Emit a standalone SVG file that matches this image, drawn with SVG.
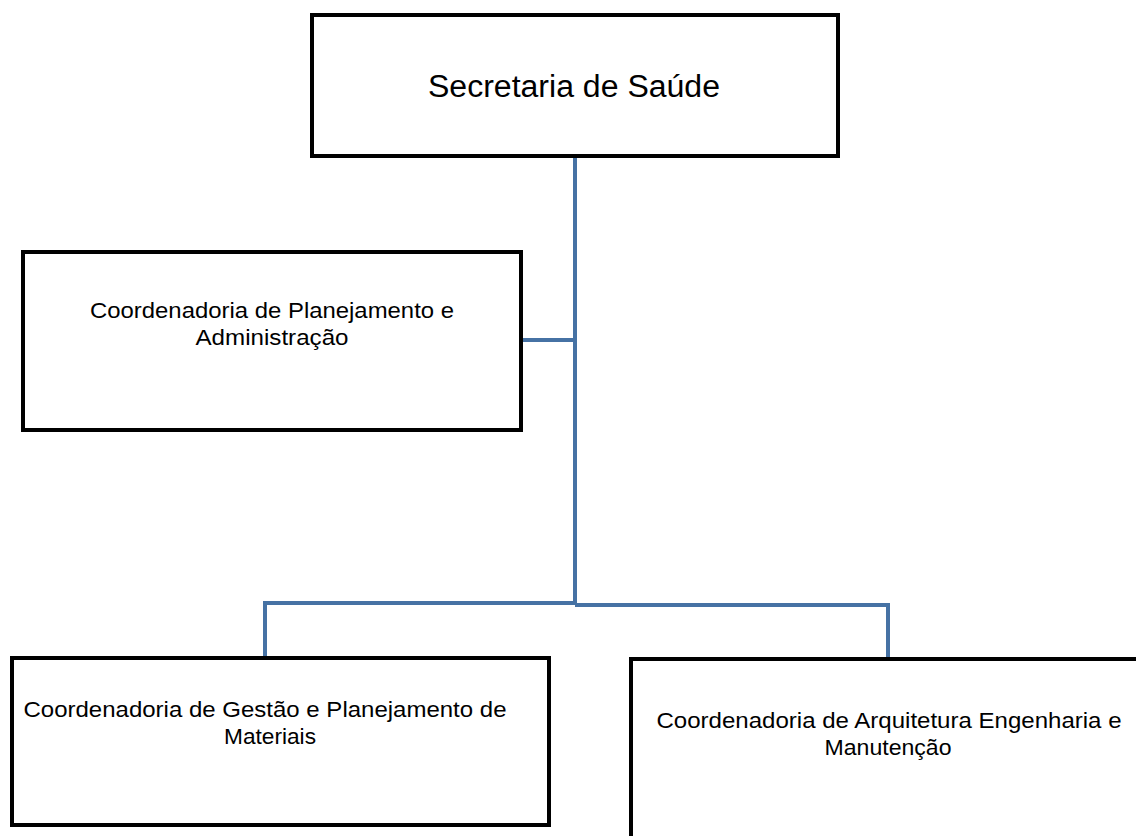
<svg xmlns="http://www.w3.org/2000/svg" width="1136" height="836" viewBox="0 0 1136 836">
<style>
.box{fill:#fff;stroke:#000;stroke-width:4}
.t{font-family:"Liberation Sans",Arial,sans-serif;fill:#000;text-anchor:middle}
.s{font-size:22.5px}
.c{fill:none;stroke:#4672A4;stroke-width:4}
</style>
<rect width="1136" height="836" fill="#fff"/>
<g id="connectors">
<path class="c" d="M575 157 V605"/>
<path class="c" d="M522 340 H575"/>
<path class="c" d="M265 656 V603 H575"/>
<path class="c" d="M575 605 H888 V657"/>
</g>
<g id="n1">
<rect class="box" x="312" y="15" width="526" height="141"/>
<text class="t" x="574" y="97" font-size="31" textLength="292" lengthAdjust="spacingAndGlyphs">Secretaria de Saúde</text>
</g>
<g id="n2">
<rect class="box" x="23" y="252" width="498" height="178"/>
<text class="t s" x="272" y="318" textLength="364" lengthAdjust="spacingAndGlyphs">Coordenadoria de Planejamento e</text>
<text class="t s" x="272" y="345" textLength="153" lengthAdjust="spacingAndGlyphs">Administração</text>
</g>
<g id="n3">
<rect class="box" x="12" y="658" width="537" height="167"/>
<text class="t s" x="265" y="717" textLength="483" lengthAdjust="spacingAndGlyphs">Coordenadoria de Gestão e Planejamento de</text>
<text class="t s" x="270" y="744" textLength="92" lengthAdjust="spacingAndGlyphs">Materiais</text>
</g>
<g id="n4">
<rect class="box" x="631" y="659" width="520" height="190"/>
<text class="t s" x="889" y="728" textLength="465" lengthAdjust="spacingAndGlyphs">Coordenadoria de Arquitetura Engenharia e</text>
<text class="t s" x="888" y="755" textLength="127" lengthAdjust="spacingAndGlyphs">Manutenção</text>
</g>
</svg>
